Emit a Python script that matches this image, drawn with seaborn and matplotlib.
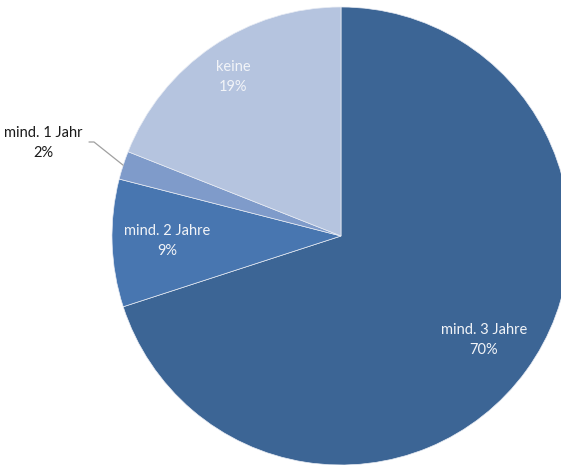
import numpy as np
import matplotlib
matplotlib.use("Agg")
import matplotlib.pyplot as plt
import seaborn as sns

sns.set_theme(style="white")
plt.rcParams['font.family'] = ['Lato', 'DejaVu Sans']

# data (clockwise from 12 o'clock)
categories = ['mind. 3 Jahre', 'mind. 2 Jahre', 'mind. 1 Jahr', 'keine']
shares = [70, 9, 2, 19]
colors = ['#3C6595', '#4876B0', '#7F9BCA', '#B5C4DF']

# layout in pixel units of the 561x465 canvas
W, H = 561, 465
cx, cy, R = 341, H - 236, 229
label_frac = [0.77, 0.76, None, 0.84]   # None -> outside label with leader line

fig = plt.figure(figsize=(W / 100, H / 100), dpi=100)
ax = fig.add_axes([0, 0, 1, 1])

wedges, _ = ax.pie(shares, colors=colors, startangle=90, counterclock=False,
                   center=(cx, cy), radius=R, frame=True,
                   wedgeprops=dict(linewidth=0.5, edgecolor='#E8ECF4'))
ax.set_xlim(0, W)
ax.set_ylim(0, H)
ax.set_aspect('equal')
ax.axis('off')

for w, cat, val, frac in zip(wedges, categories, shares, label_frac):
    mid = np.deg2rad((w.theta1 + w.theta2) / 2)
    if frac is not None:
        x = cx + frac * R * np.cos(mid)
        y = cy + frac * R * np.sin(mid)
        ax.text(x, y, f"{cat}\n{val}%", ha='center', va='center', color='#F2F4F8',
                fontsize=10.5, linespacing=1.55)
    else:
        # outside label with leader line
        px = cx + R * np.cos(mid)
        py = cy + R * np.sin(mid)
        tx, ty = 43, H - 143
        ex, ey = tx + 46, ty + 1
        ax.plot([px, ex + 5, ex], [py, ey, ey], color='#A0A0A0', lw=0.9)
        ax.text(tx, ty, f"{cat}\n{val}%", ha='center', va='center', color='#1A1A1A',
                fontsize=10.5, linespacing=1.55)

plt.savefig('out.png', dpi=100)
